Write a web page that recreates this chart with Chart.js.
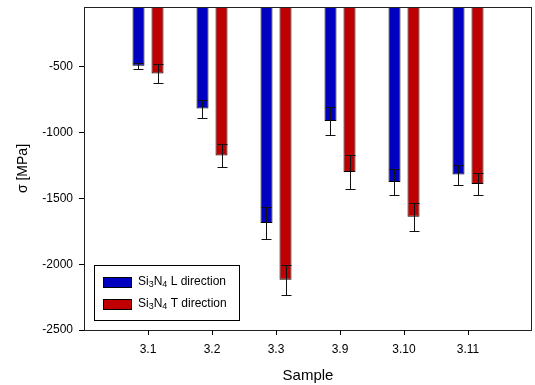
<!DOCTYPE html>
<html>
<head>
<meta charset="UTF-8">
<title>Si3N4 stress</title>
<script src="https://cdn.jsdelivr.net/npm/chart.js"></script>
<style>
    html, body { margin: 0; padding: 0; background: #fff; }
    #wrap { width: 535px; height: 385px; }
</style>
</head>
<body>
<div id="wrap"><canvas id="chart" width="535" height="385"></canvas></div>
<script>
    // data
    const samples = ['3.1', '3.2', '3.3', '3.9', '3.10', '3.11'];
    const stressL = [-492, -817, -1687, -911, -1375, -1319];
    const stressT = [-550, -1174, -2118, -1299, -1639, -1390];
    const errL = [22, 68, 120, 105, 99, 76];
    const errT = [70, 84, 114, 127, 107, 84];
    const yTicks = [-2500, -2000, -1500, -1000, -500];

    const FONT = 'Arial, "Liberation Sans", sans-serif';
    const BLUE = '#0000c0';
    const RED = '#c00000';

    // empty slots on both ends so ticks sit at 1..6 of 0..7
    const labels = [''].concat(samples, ['']);
    const pad = arr => [null].concat(arr, [null]);

    const errorBars = {
        id: 'errorBars',
        afterDatasetsDraw(chart) {
            const ctx = chart.ctx;
            const y = chart.scales.y;
            const errs = [errL, errT];
            ctx.save();
            ctx.strokeStyle = '#111';
            ctx.lineWidth = 1;
            chart.data.datasets.forEach((ds, i) => {
                chart.getDatasetMeta(i).data.forEach((bar, j) => {
                    const v = ds.data[j];
                    if (v == null) return;
                    const e = errs[i][j - 1];
                    const x = Math.round(bar.x) + 0.5;
                    const y1 = Math.round(y.getPixelForValue(v + e)) + 0.5;
                    const y2 = Math.round(y.getPixelForValue(v - e)) + 0.5;
                    ctx.beginPath();
                    ctx.moveTo(x, y1); ctx.lineTo(x, y2);
                    ctx.moveTo(x - 5, y1); ctx.lineTo(x + 5, y1);
                    ctx.moveTo(x - 5, y2); ctx.lineTo(x + 5, y2);
                    ctx.stroke();
                });
            });
            ctx.restore();
        }
    };

    function subText(ctx, parts, x, y) {
        // parts: [text, isSub]
        parts.forEach(p => {
            ctx.font = (p[1] ? '9px ' : '12px ') + FONT;
            ctx.fillText(p[0], x, p[1] ? y + 3 : y);
            x += ctx.measureText(p[0]).width;
        });
    }

    const frameAndLegend = {
        id: 'frameAndLegend',
        afterDraw(chart) {
            const ctx = chart.ctx;
            const a = chart.chartArea;
            const xs = chart.scales.x;
            ctx.save();
            ctx.strokeStyle = '#222';
            ctx.lineWidth = 1;
            ctx.strokeRect(Math.round(a.left) + 0.5, Math.round(a.top) + 0.5,
                Math.round(a.right - a.left) - 1, Math.round(a.bottom - a.top));

            // x tick marks, only on the sample slots
            ctx.strokeStyle = '#000';
            ctx.beginPath();
            for (let i = 1; i < labels.length - 1; i++) {
                const px = Math.round(xs.getPixelForTick(i)) + 0.5;
                ctx.moveTo(px, a.bottom);
                ctx.lineTo(px, a.bottom + 5);
            }
            ctx.stroke();

            // legend box
            ctx.fillStyle = '#fff';
            ctx.fillRect(94, 265, 145, 55);
            ctx.strokeStyle = '#000';
            ctx.strokeRect(94.5, 265.5, 145, 55);
            const items = [
                { color: BLUE, dir: ' L direction', y: 277 },
                { color: RED, dir: ' T direction', y: 299 }
            ];
            items.forEach(it => {
                ctx.fillStyle = it.color;
                ctx.fillRect(103, it.y, 28, 10);
                ctx.strokeStyle = '#000';
                ctx.strokeRect(103.5, it.y + 0.5, 28, 10);
                ctx.fillStyle = '#000';
                ctx.textBaseline = 'middle';
                subText(ctx, [['Si', false], ['3', true], ['N', false], ['4', true], [it.dir, false]], 138, it.y + 5);
            });
            ctx.restore();
        }
    };

    new Chart(document.getElementById('chart'), {
        type: 'bar',
        data: {
            labels: labels,
            datasets: [
                {
                    label: 'Si3N4 L direction',
                    data: pad(stressL),
                    backgroundColor: BLUE,
                    borderColor: '#000',
                    borderWidth: 1,
                    categoryPercentage: 0.594,
                    barPercentage: 0.632
                },
                {
                    label: 'Si3N4 T direction',
                    data: pad(stressT),
                    backgroundColor: RED,
                    borderColor: '#000',
                    borderWidth: 1,
                    categoryPercentage: 0.594,
                    barPercentage: 0.632
                }
            ]
        },
        options: {
            responsive: false,
            animation: false,
            layout: { padding: { left: 0, top: 7, right: 3, bottom: 0 } },
            plugins: {
                legend: { display: false },
                tooltip: { enabled: false }
            },
            scales: {
                x: {
                    offset: false,
                    afterFit(s) { s.height = 55; s.paddingLeft = 0; s.paddingRight = 0; },
                    grid: { display: false },
                    border: { display: false },
                    ticks: {
                        color: '#000',
                        font: { family: FONT, size: 12 },
                        padding: 4,
                        autoSkip: false,
                        maxRotation: 0
                    },
                    title: {
                        display: true,
                        text: 'Sample',
                        color: '#000',
                        font: { family: FONT, size: 15 },
                        padding: { top: 0, bottom: 0 }
                    }
                },
                y: {
                    min: -2500,
                    max: -45,
                    afterFit(s) { s.width = 84; s.paddingTop = 0; s.paddingBottom = 0; },
                    afterBuildTicks(s) { s.ticks = yTicks.map(v => ({ value: v })); },
                    grid: { drawOnChartArea: false, tickLength: 5, tickColor: '#000' },
                    border: { display: false },
                    ticks: {
                        color: '#000',
                        font: { family: FONT, size: 12 },
                        padding: 6,
                        callback: v => String(v)
                    },
                    title: {
                        display: true,
                        text: 'σ [MPa]',
                        color: '#000',
                        font: { family: FONT, size: 14 },
                        padding: { top: 15, bottom: 0 }
                    }
                }
            }
        },
        plugins: [errorBars, frameAndLegend]
    });
</script>
</body>
</html>
